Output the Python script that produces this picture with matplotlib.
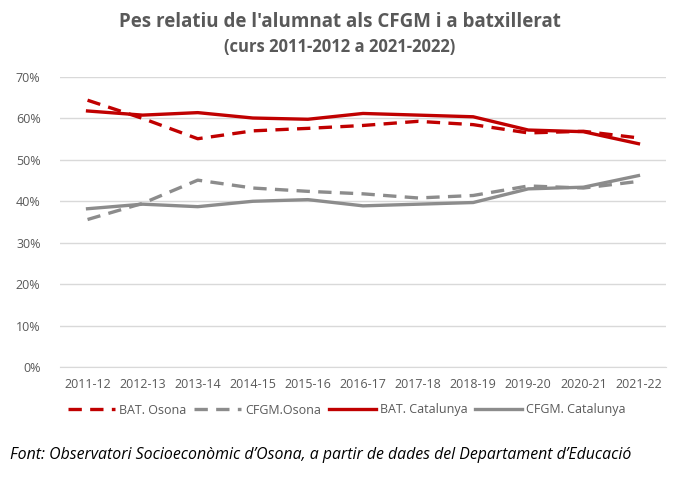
import matplotlib
matplotlib.use("Agg")
import matplotlib.pyplot as plt
from matplotlib.ticker import PercentFormatter

years = ["2011-12", "2012-13", "2013-14", "2014-15", "2015-16", "2016-17",
         "2017-18", "2018-19", "2019-20", "2020-21", "2021-22"]
bat_osona = [64.4, 60.0, 55.1, 57.0, 57.6, 58.3, 59.3, 58.5, 56.5, 56.9, 55.3]
cfgm_osona = [35.6, 39.5, 45.1, 43.2, 42.4, 41.8, 40.8, 41.4, 43.7, 43.2, 44.8]
bat_cat = [61.8, 60.8, 61.4, 60.1, 59.8, 61.2, 60.8, 60.4, 57.2, 56.8, 53.9]
cfgm_cat = [38.2, 39.3, 38.7, 40.0, 40.4, 38.9, 39.3, 39.7, 43.0, 43.4, 46.2]

RED = "#C00000"
GRAY = "#8C8C8C"
TXT = "#595959"

plt.rcParams["font.family"] = ["Open Sans", "DejaVu Sans"]

fig = plt.figure(figsize=(6.8, 4.83), dpi=100)
ax = fig.add_axes([60/680, 1-367/483, 606/680, 290/483])

x = list(range(len(years)))
lw = 2.4
ax.plot(x, bat_osona, color=RED, lw=lw, ls=(0, (4, 2.5)), label="BAT. Osona")
ax.plot(x, cfgm_osona, color=GRAY, lw=lw, ls=(0, (4, 2.5)), label="CFGM.Osona")
ax.plot(x, bat_cat, color=RED, lw=lw, label="BAT. Catalunya")
ax.plot(x, cfgm_cat, color=GRAY, lw=lw, label="CFGM. Catalunya")

ax.set_xlim(-0.5, len(years) - 0.5)
ax.set_ylim(0, 70)
ax.set_yticks(range(0, 71, 10))
ax.yaxis.set_major_formatter(PercentFormatter(decimals=0))
ax.set_xticks(x)
ax.set_xticklabels(years)
ax.grid(axis="y", color="#D9D9D9", lw=1)
ax.set_axisbelow(True)
for s in ["top", "right", "left"]:
    ax.spines[s].set_visible(False)
ax.spines["bottom"].set_color("#D9D9D9")
ax.tick_params(axis="both", length=0, colors=TXT, labelsize=9)
ax.tick_params(axis="y", pad=14)
ax.tick_params(axis="x", pad=8)

fig.text(0.5, 1-22/483, "Pes relatiu de l'alumnat als CFGM i a batxillerat",
         ha="center", va="center", fontsize=13.5, fontweight="bold", color=TXT)
fig.text(0.5, 1-47/483, "(curs 2011-2012 a 2021-2022)",
         ha="center", va="center", fontsize=12, fontweight="bold", color=TXT)

leg = fig.legend(loc="center", bbox_to_anchor=(0.51, 1-410/483), ncol=4,
                 frameon=False, fontsize=9, handlelength=3.8, columnspacing=0.6,
                 handletextpad=0.3)
for t in leg.get_texts():
    t.set_color(TXT)

fig.text(10/680, 1-455/483,
         "Font: Observatori Socioeconòmic d\u2019Osona, a partir de dades del Departament d\u2019Educació",
         ha="left", va="center", fontsize=11.4, style="italic", color="black")

fig.savefig("out.png", dpi=100)
